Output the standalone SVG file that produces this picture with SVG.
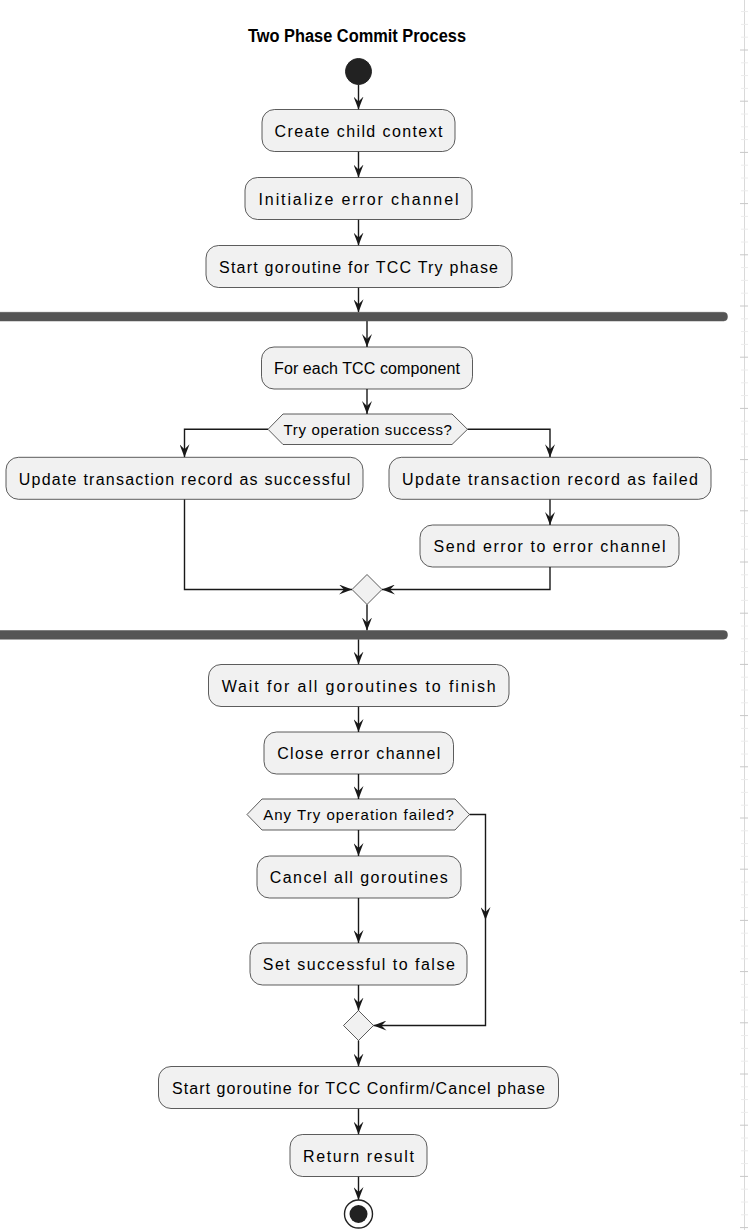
<svg xmlns="http://www.w3.org/2000/svg" width="748" height="1230" viewBox="0 0 748 1230">
<style>
.box{fill:#F1F1F1;stroke:#181818;stroke-width:0.7}
.t{font-family:"Liberation Sans",Arial,sans-serif;font-size:16px;fill:#000;text-anchor:middle}
.dt{font-family:"Liberation Sans",Arial,sans-serif;font-size:15px;fill:#000;text-anchor:middle}
.title{font-family:"Liberation Sans",Arial,sans-serif;font-size:18px;font-weight:bold;fill:#000;text-anchor:middle}
.bar{fill:#555555;stroke:#555555;stroke-width:0.5}
.c{fill:none;stroke:#181818;stroke-width:1.4}
.c2{fill:none;stroke:#181818;stroke-width:1.4;marker-end:url(#ah)}
</style>
<defs>
<marker id="ah" viewBox="0 0 13 10" refX="13" refY="5" markerWidth="13" markerHeight="10" orient="auto" markerUnits="userSpaceOnUse">
<path d="M0,0 L13,5 L0,10 L5,5 Z" fill="#181818"/>
</marker>
</defs>
<rect x="0" y="0" width="748" height="1230" fill="#FFFFFF"/>
<g id="ruler">
<line x1="744.5" y1="0" x2="744.5" y2="1230" stroke="#d9d9d9" stroke-width="1"/>
<path stroke="#ececec" stroke-width="1" fill="none" d="M741,11.6H748M741,24.4H748M741,37.2H748M741,62.8H748M741,75.6H748M741,88.4H748M741,114H748M741,126.8H748M741,139.6H748M741,165.2H748M741,178H748M741,190.8H748M741,216.4H748M741,229.2H748M741,242H748M741,267.6H748M741,280.4H748M741,293.2H748M741,318.8H748M741,331.6H748M741,344.4H748M741,370H748M741,382.8H748M741,395.6H748M741,421.2H748M741,434H748M741,446.8H748M741,472.4H748M741,485.2H748M741,498H748M741,523.6H748M741,536.4H748M741,549.2H748M741,574.8H748M741,587.6H748M741,600.4H748M741,626H748M741,638.8H748M741,651.6H748M741,677.2H748M741,690H748M741,702.8H748M741,728.4H748M741,741.2H748M741,754H748M741,779.6H748M741,792.4H748M741,805.2H748M741,830.8H748M741,843.6H748M741,856.4H748M741,882H748M741,894.8H748M741,907.6H748M741,933.2H748M741,946H748M741,958.8H748M741,984.4H748M741,997.2H748M741,1010H748M741,1035.6H748M741,1048.4H748M741,1061.2H748M741,1086.8H748M741,1099.6H748M741,1112.4H748M741,1138H748M741,1150.8H748M741,1163.6H748M741,1189.2H748M741,1202H748M741,1214.8H748"/>
<path stroke="#c8c8c8" stroke-width="1" fill="none" d="M740,50H748M740,101.2H748M740,152.4H748M740,203.6H748M740,254.8H748M740,306H748M740,357.2H748M740,408.4H748M740,459.6H748M740,510.8H748M740,562H748M740,613.2H748M740,664.4H748M740,715.6H748M740,766.8H748M740,818H748M740,869.2H748M740,920.4H748M740,971.6H748M740,1022.8H748M740,1074H748M740,1125.2H748M740,1176.4H748M740,1227.6H748"/>
</g>
<text class="title" x="357" y="42" textLength="218" lengthAdjust="spacingAndGlyphs">Two Phase Commit Process</text>
<g id="connectors">
<path class="c2" d="M358.5,84.5 V109.5"/>
<path class="c2" d="M358.5,151.5 V177.5"/>
<path class="c2" d="M358.5,219.5 V245.5"/>
<path class="c2" d="M358.5,287.5 V312.3"/>
<path class="c2" d="M367,321 V347"/>
<path class="c2" d="M367,389 V414"/>
<path class="c2" d="M268,429.3 H184.5 V457.3"/>
<path class="c2" d="M467.5,429.3 H550 V457.3"/>
<path class="c2" d="M550,499.3 V525"/>
<path class="c2" d="M184.5,499.3 V589.5 H352"/>
<path class="c2" d="M550,567 V589.5 H382"/>
<path class="c2" d="M367,604.5 V630.5"/>
<path class="c2" d="M358.5,639.2 V664.5"/>
<path class="c2" d="M358.5,706.5 V732"/>
<path class="c2" d="M358.5,774 V799"/>
<path class="c2" d="M358.5,830 V856"/>
<path class="c2" d="M358.5,898 V943"/>
<path class="c2" d="M358.5,985 V1010.5"/>
<path class="c2" d="M469.5,814.5 H485.5 V920"/>
<path class="c2" d="M485.5,920 V1025.5 H373.5"/>
<path class="c2" d="M358.5,1040.5 V1066.5"/>
<path class="c2" d="M358.5,1108.5 V1134.5"/>
<path class="c2" d="M358.5,1176.5 V1200"/>
</g>
<g id="start"><circle cx="358.5" cy="71.5" r="13" fill="#222222" stroke="#222222" stroke-width="1"/></g>
<g id="n1"><rect class="box" x="262" y="109.5" width="193" height="42" rx="12.5"/><text class="t" x="358.5" y="136.5" textLength="168" lengthAdjust="spacing">Create child context</text></g>
<g id="n2"><rect class="box" x="245" y="177.5" width="227" height="42" rx="12.5"/><text class="t" x="358.5" y="204.5" textLength="200" lengthAdjust="spacing">Initialize error channel</text></g>
<g id="n3"><rect class="box" x="206" y="245.5" width="306" height="42" rx="12.5"/><text class="t" x="358.5" y="272.5" textLength="279" lengthAdjust="spacing">Start goroutine for TCC Try phase</text></g>
<g id="fork1"><rect class="bar" x="-10" y="312.3" width="737.5" height="8.7" rx="4"/></g>
<g id="n4"><rect class="box" x="261.5" y="347" width="211" height="42" rx="12.5"/><text class="t" x="367" y="374" textLength="186" lengthAdjust="spacing">For each TCC component</text></g>
<g id="d1"><polygon class="box" points="268,429.3 283,414 452,414 467.5,429.3 452,444.5 283,444.5"/><text class="dt" x="367.7" y="435" textLength="168.5" lengthAdjust="spacing">Try operation success?</text></g>
<g id="n5"><rect class="box" x="6" y="457.3" width="357" height="42" rx="12.5"/><text class="t" x="184.5" y="484.5" textLength="331.6" lengthAdjust="spacing">Update transaction record as successful</text></g>
<g id="n6"><rect class="box" x="389" y="457.3" width="322" height="42" rx="12.5"/><text class="t" x="550" y="484.5" textLength="296" lengthAdjust="spacing">Update transaction record as failed</text></g>
<g id="n7"><rect class="box" x="420" y="525" width="259" height="42" rx="12.5"/><text class="t" x="549.5" y="552" textLength="232" lengthAdjust="spacing">Send error to error channel</text></g>
<g id="m1"><polygon class="box" points="367,574.5 382,589.5 367,604.5 352,589.5"/></g>
<g id="join1"><rect class="bar" x="-10" y="630.5" width="737.5" height="8.7" rx="4"/></g>
<g id="n8"><rect class="box" x="208.5" y="664.5" width="300.5" height="42" rx="12.5"/><text class="t" x="358.7" y="691.5" textLength="274" lengthAdjust="spacing">Wait for all goroutines to finish</text></g>
<g id="n9"><rect class="box" x="264" y="732" width="189.5" height="42" rx="12.5"/><text class="t" x="358.7" y="759" textLength="163" lengthAdjust="spacing">Close error channel</text></g>
<g id="d2"><polygon class="box" points="247,814.5 262,799 455,799 469.5,814.5 455,830 262,830"/><text class="dt" x="358.5" y="820" textLength="190.7" lengthAdjust="spacing">Any Try operation failed?</text></g>
<g id="n10"><rect class="box" x="257" y="856" width="204" height="42" rx="12.5"/><text class="t" x="358.8" y="883" textLength="178" lengthAdjust="spacing">Cancel all goroutines</text></g>
<g id="n11"><rect class="box" x="250" y="943" width="217" height="42" rx="12.5"/><text class="t" x="358.8" y="970" textLength="192" lengthAdjust="spacing">Set successful to false</text></g>
<g id="m2"><polygon class="box" points="358.5,1010.5 373.5,1025.5 358.5,1040.5 343.5,1025.5"/></g>
<g id="n12"><rect class="box" x="158.5" y="1066.5" width="400" height="42" rx="12.5"/><text class="t" x="358.5" y="1093.5" textLength="373" lengthAdjust="spacing">Start goroutine for TCC Confirm/Cancel phase</text></g>
<g id="n13"><rect class="box" x="290" y="1134.5" width="137" height="42" rx="12.5"/><text class="t" x="358.5" y="1161.5" textLength="111" lengthAdjust="spacing">Return result</text></g>
<g id="end"><circle cx="358.5" cy="1214" r="14" fill="#FFFFFF" stroke="#222222" stroke-width="1.4"/><circle cx="358.5" cy="1214" r="9" fill="#222222"/></g>
</svg>
